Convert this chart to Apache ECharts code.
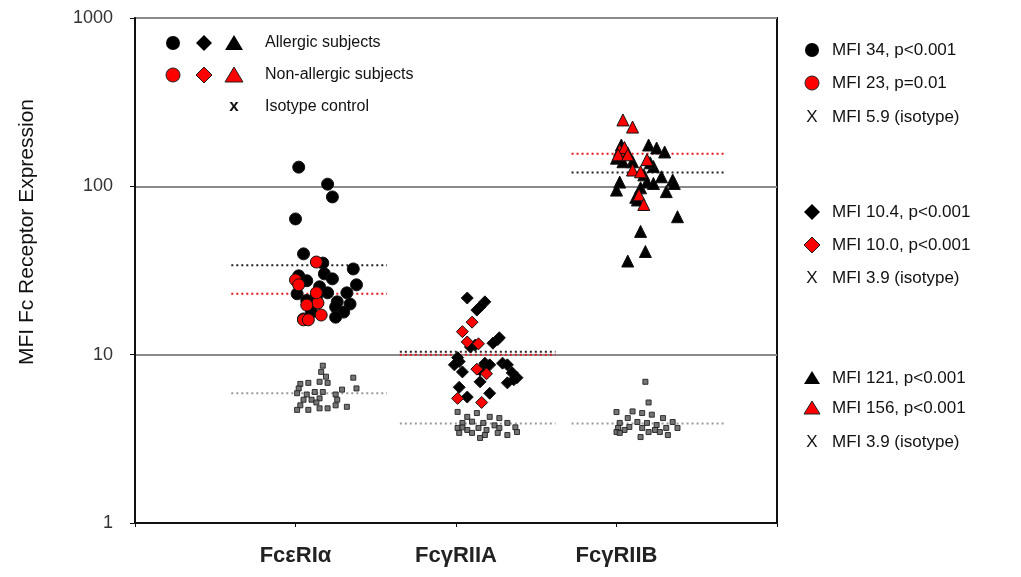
<!DOCTYPE html>
<html>
<head>
<meta charset="utf-8">
<script src="https://cdn.jsdelivr.net/npm/echarts@6/dist/echarts.min.js"></script>
<style>
  html, body { margin: 0; padding: 0; background: #fff; }
  #chart { width: 1021px; height: 577px; }
</style>
</head>
<body>
<div id="chart"></div>
<script>
// categories on the x axis (value axis, category i sits at x = i)
const categories = ['FcεRIα', 'FcγRIIA', 'FcγRIIB'];
const yTicks = [1, 10, 100, 1000];

// points: [x position (jittered around category), MFI]
const fceriAllergic = [
  [1.02, 130], [1.20, 103], [1.23, 86.5], [1.00, 64], [1.05, 39.7], [1.17, 35],
  [1.36, 32.3], [1.18, 30.2], [1.23, 28.2], [1.02, 29.4], [1.07, 27.5], [1.38, 26],
  [1.15, 25.3], [1.01, 23], [1.32, 23.3], [1.26, 20.6], [1.34, 20], [1.25, 19.2],
  [1.30, 17.9], [1.10, 17.9], [1.25, 16.7], [1.07, 21], [1.13, 22], [1.20, 23.3], [1.05, 16.3]
];
const fceriNonAllergic = [
  [1.13, 35.5], [1.00, 27.8], [1.02, 26], [1.14, 20.3], [1.07, 19.7],
  [1.16, 17.2], [1.05, 16.1], [1.08, 16.1], [1.13, 23.3]
];
const fceriIsotype = [
  [1.17, 8.6], [1.16, 7.9], [1.19, 7.4], [1.15, 6.9], [1.20, 6.8], [1.36, 7.3],
  [1.38, 6.3], [1.03, 6.7], [1.08, 6.8], [1.02, 6.3], [1.12, 6.0], [1.17, 6.0],
  [1.07, 5.8], [1.01, 5.9], [1.25, 5.8], [1.29, 6.2], [1.05, 5.4], [1.10, 5.4],
  [1.15, 5.5], [1.26, 5.4], [1.03, 5.0], [1.08, 4.7], [1.15, 4.8], [1.20, 4.8],
  [1.25, 5.0], [1.32, 4.9], [1.01, 4.7], [1.13, 5.2]
];

const fcgr2aAllergic = [
  [2.07, 21.7], [2.18, 20.6], [2.15, 19.2], [2.13, 18.4], [2.26, 12.3], [2.27, 12.6],
  [2.23, 11.7], [2.12, 11.4], [2.09, 11.1], [2.01, 9.6], [2.02, 9.1], [1.99, 8.7],
  [2.18, 8.9], [2.21, 8.7], [2.29, 8.9], [2.32, 8.7], [2.04, 7.9], [2.15, 8.1],
  [2.35, 7.8], [2.38, 7.3], [2.32, 6.8], [2.36, 7.1], [2.15, 6.9], [2.02, 6.4],
  [2.21, 5.9], [2.07, 5.6]
];
const fcgr2aNonAllergic = [
  [2.10, 15.6], [2.04, 13.7], [2.07, 11.9], [2.14, 11.6], [2.13, 8.2], [2.19, 7.7],
  [2.01, 5.5], [2.16, 5.2]
];
const fcgr2aIsotype = [
  [2.01, 4.57], [2.07, 4.27], [2.13, 4.5], [2.21, 4.27], [2.27, 4.2], [2.04, 3.93],
  [2.10, 4.0], [2.17, 3.93], [2.24, 3.8], [2.32, 3.93], [2.37, 3.7], [2.01, 3.67],
  [2.07, 3.57], [2.14, 3.67], [2.19, 3.57], [2.27, 3.67], [2.02, 3.43], [2.10, 3.43],
  [2.18, 3.33], [2.26, 3.43], [2.32, 3.33], [2.38, 3.47], [2.15, 3.2], [2.04, 3.7]
];

const fcgr2bAllergic = [
  [3.20, 176], [3.25, 169], [3.30, 160], [3.03, 176], [3.07, 158], [3.00, 147],
  [3.04, 140], [3.10, 140], [3.23, 131], [3.21, 138], [3.17, 117], [3.28, 114],
  [3.35, 109], [3.36, 104], [3.02, 106], [3.00, 95], [3.19, 106], [3.23, 104],
  [3.15, 98], [3.31, 93], [3.12, 86], [3.38, 66], [3.15, 54], [3.18, 41],
  [3.07, 36], [3.13, 83]
];
const fcgr2bNonAllergic = [
  [3.04, 248], [3.10, 225], [3.02, 164], [3.05, 170], [3.01, 154], [3.07, 154],
  [3.19, 144], [3.10, 125], [3.15, 122], [3.14, 89], [3.17, 78]
];
const fcgr2bIsotype = [
  [3.18, 6.9], [3.20, 5.2], [3.00, 4.56], [3.10, 4.6], [3.16, 4.5], [3.22, 4.4],
  [3.07, 4.2], [3.29, 4.2], [3.35, 3.98], [3.02, 3.93], [3.13, 3.98], [3.19, 3.93],
  [3.25, 3.82], [3.01, 3.67], [3.08, 3.72], [3.16, 3.67], [3.24, 3.57], [3.31, 3.67],
  [3.38, 3.67], [3.00, 3.47], [3.05, 3.57], [3.20, 3.47], [3.27, 3.47], [3.02, 3.43],
  [3.32, 3.33], [3.15, 3.24]
];

// group medians (MFI) and the x-span of each dotted median line
const allergicMfi = [34, 10.4, 121];
const nonAllergicMfi = [23, 10.0, 156];
const isotypeMfi = [5.9, 3.9, 3.9];
const medianSpans = [[0.60, 1.57], [1.65, 2.62], [2.72, 3.68]];

// annotation text on the right
const annotations = [
  ['circle', '#000', 'MFI 34, p<0.001'],
  ['circle', '#f00', 'MFI 23, p=0.01'],
  ['x', '#000', 'MFI 5.9 (isotype)'],
  ['diamond', '#000', 'MFI 10.4, p<0.001'],
  ['diamond', '#f00', 'MFI 10.0, p<0.001'],
  ['x', '#000', 'MFI 3.9 (isotype)'],
  ['triangle', '#000', 'MFI 121, p<0.001'],
  ['triangle', '#f00', 'MFI 156, p<0.001'],
  ['x', '#000', 'MFI 3.9 (isotype)']
];
const annotationY = [50, 83, 117, 212, 245, 278, 378, 408, 442];

const FONT = '"Liberation Sans", Arial, sans-serif';

function scatter(name, data, symbol, color, size, extra) {
  return Object.assign({
    name, type: 'scatter', data, symbol, symbolSize: size,
    itemStyle: { color, borderColor: '#111', borderWidth: 1, opacity: 1 },
    silent: true
  }, extra || {});
}

function medianLine(values, color) {
  return values.map((v, i) => ({
    type: 'line',
    data: [[medianSpans[i][0], v], [medianSpans[i][1], v]],
    symbol: 'none',
    silent: true,
    z: 1,
    lineStyle: { color, width: 2, type: [2, 3] }
  }));
}

const groups = [
  [fceriIsotype, fceriAllergic, fceriNonAllergic, 'circle', 12],
  [fcgr2aIsotype, fcgr2aAllergic, fcgr2aNonAllergic, 'diamond', 12],
  [fcgr2bIsotype, fcgr2bAllergic, fcgr2bNonAllergic, 'triangle', 12]
];

const series = [];
series.push(...medianLine(isotypeMfi, '#9a9a9a'));
series.push(...medianLine(allergicMfi, '#222'));
series.push(...medianLine(nonAllergicMfi, '#e8161b'));
groups.forEach(([iso, allergic, nonAllergic, sym, size]) => {
  series.push(scatter('isotype', iso, 'rect', '#666', 5, { itemStyle: { color: '#666', borderColor: '#222', borderWidth: 1, opacity: 0.9 } }));
  series.push(scatter('allergic', allergic, sym, '#000', size));
  series.push(scatter('non-allergic', nonAllergic, sym, '#f00', size));
});

// legend + annotation shapes
function shape(kind, x, y, color, r) {
  const style = { fill: color, stroke: '#222', lineWidth: color === '#000' ? 0 : 1 };
  if (kind === 'circle') return { type: 'circle', shape: { cx: x, cy: y, r }, style };
  if (kind === 'diamond') return { type: 'polygon', shape: { points: [[x, y - r - 1], [x + r + 1, y], [x, y + r + 1], [x - r - 1, y]] }, style };
  if (kind === 'triangle') return { type: 'polygon', shape: { points: [[x, y - r], [x + r + 1, y + r - 1], [x - r - 1, y + r - 1]] }, style };
  return { type: 'text', style: { text: 'X', x, y, font: '17px ' + FONT, fill: '#111', align: 'center', verticalAlign: 'middle' } };
}

const graphic = [];
['#000', '#f00'].forEach((c, i) => {
  const y = 43 + i * 32;
  graphic.push(shape('circle', 173, y, c, 7));
  graphic.push(shape('diamond', 204, y, c, 7));
  graphic.push(shape('triangle', 234, y, c, 8));
});
graphic.push({ type: 'text', style: { text: 'x', x: 234, y: 106, font: 'bold 17px ' + FONT, fill: '#111', align: 'center', verticalAlign: 'middle' } });
['Allergic subjects', 'Non-allergic subjects', 'Isotype control'].forEach((t, i) => {
  graphic.push({ type: 'text', style: { text: t, x: 265, y: 43 + i * 32, font: '16px ' + FONT, fill: '#111', verticalAlign: 'middle' } });
});
annotations.forEach(([kind, color, text], i) => {
  const y = annotationY[i];
  graphic.push(shape(kind, 812, y, color, 7));
  graphic.push({ type: 'text', style: { text, x: 832, y, font: '17px ' + FONT, fill: '#111', verticalAlign: 'middle' } });
});
graphic.push({
  type: 'text', x: 27, y: 232, rotation: Math.PI / 2,
  style: { text: 'MFI Fc Receptor Expression', font: '21px ' + FONT, fill: '#111', align: 'center', verticalAlign: 'middle' }
});

const chart = echarts.init(document.getElementById('chart'));
chart.setOption({
  animation: false,
  backgroundColor: '#fff',
  grid: { left: 135, right: 244, top: 18, bottom: 54, show: true, borderColor: '#111', borderWidth: 2 },
  xAxis: {
    type: 'value', min: 0, max: 4, interval: 1,
    splitLine: { show: false },
    axisLine: { lineStyle: { color: '#111', width: 2 } },
    axisTick: { length: 4, lineStyle: { color: '#111' } },
    axisLabel: {
      margin: 22, fontSize: 22, fontWeight: 'bold', color: '#222', fontFamily: FONT,
      formatter: v => categories[v - 1] || ''
    }
  },
  yAxis: {
    type: 'log', logBase: 10, min: yTicks[0], max: yTicks[yTicks.length - 1],
    axisLine: { show: true, lineStyle: { color: '#111', width: 2 } },
    axisTick: { show: true, length: 5, lineStyle: { color: '#111' } },
    axisLabel: { margin: 22, fontSize: 18, color: '#333', fontFamily: FONT, formatter: v => String(v) },
    splitLine: { show: true, lineStyle: { color: '#8a8a8a', width: 2 } },
    minorTick: { show: false }
  },
  series,
  graphic
});
</script>
</body>
</html>
